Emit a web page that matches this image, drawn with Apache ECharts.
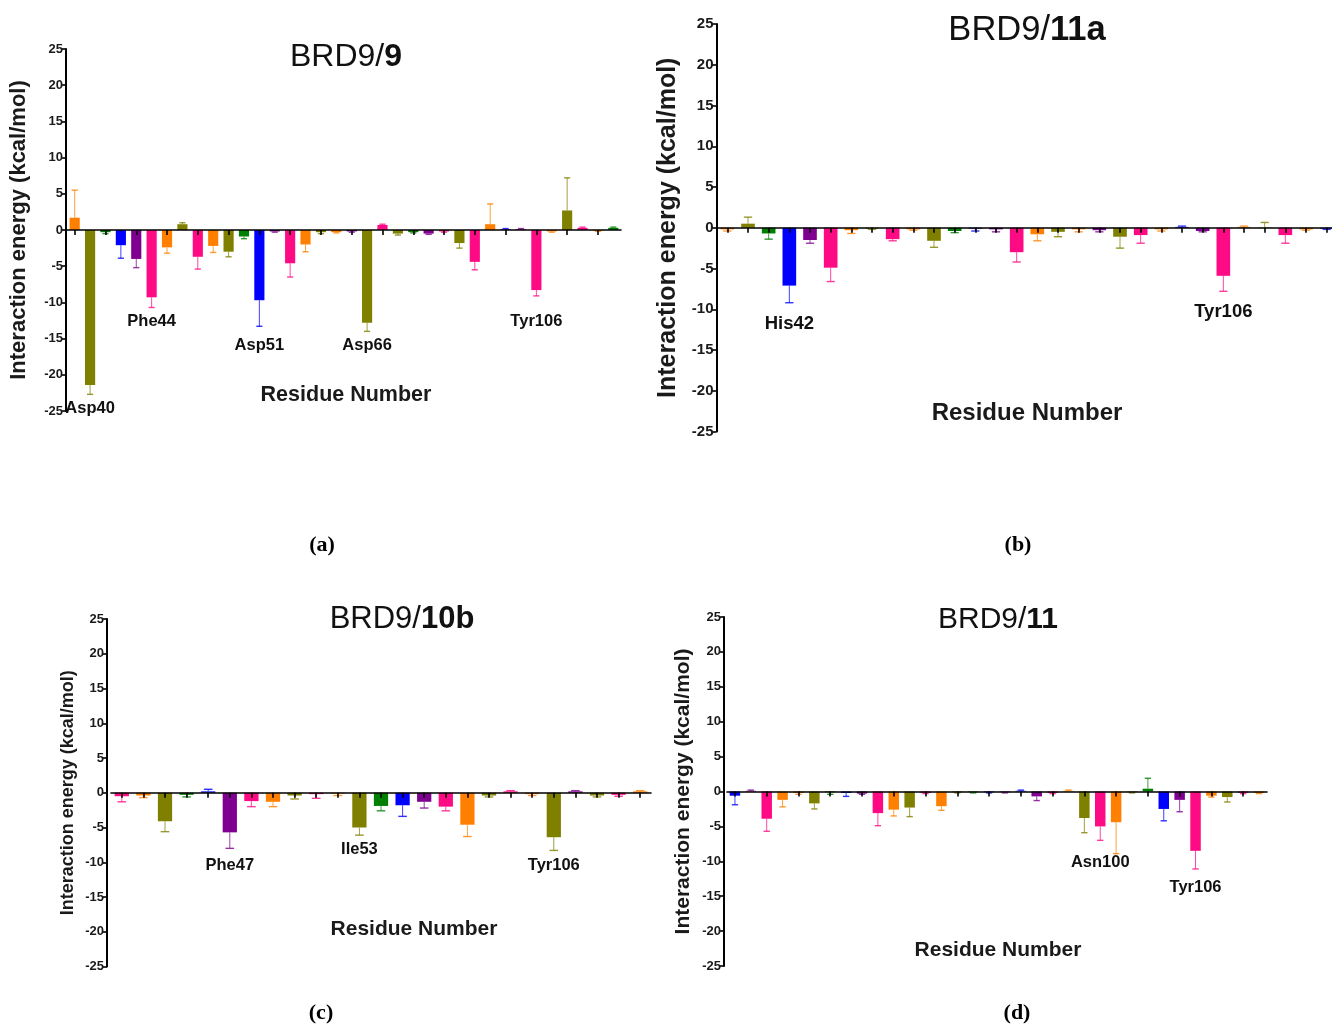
<!DOCTYPE html>
<html><head><meta charset="utf-8">
<script src="https://cdn.jsdelivr.net/npm/echarts@6/dist/echarts.min.js"></script>
<style>html,body{margin:0;padding:0;background:#fff}#c{width:1332px;height:1027px}</style>
</head><body><div id="c"></div>
<script>
// palette: 0 orange, 1 olive, 2 green, 3 blue, 4 purple, 5 pink
const palette = ['#FF8000', '#808000', '#008000', '#0000FF', '#7F0090', '#FF0A85'];
const yTicks = [-25, 25, 5]; // min, max, step

// Panel (a) BRD9/9
const valsA = [1.7, -21.4, -0.3, -2.1, -4.0, -9.3, -2.4, 0.8, -3.7, -2.2, -3.0, -0.9, -9.7, -0.2, -4.6, -2.0, -0.3, -0.3, -0.2, -12.8, 0.7, -0.5, -0.3, -0.5, -0.2, -1.8, -4.4, 0.8, 0.1, 0.1, -8.3, -0.2, 2.7, 0.3, -0.1, 0.3];
const errA  = [3.8, 1.3, 0.2, 1.8, 1.2, 1.4, 0.8, 0.2, 1.7, 0.9, 0.7, 0.3, 3.6, 0.1, 1.9, 1.0, 0.2, 0.1, 0.1, 1.2, 0.1, 0.2, 0.1, 0.1, 0.1, 0.7, 1.1, 2.8, 0.1, 0.1, 0.8, 0.1, 4.5, 0.1, 0.1, 0.1];
const colA  = [0, 1, 2, 3, 4, 5, 0, 1, 5, 0, 1, 2, 3, 4, 5, 0, 1, 0, 4, 1, 5, 1, 2, 4, 5, 1, 5, 0, 3, 4, 5, 0, 1, 5, 0, 2];
const annA  = [[1, -24.7, 'Asp40'], [5, -12.6, 'Phe44'], [12, -15.9, 'Asp51'], [19, -15.9, 'Asp66'], [30, -12.6, 'Tyr106']];

// Panel (b) BRD9/11a
const valsB = [-0.2, 0.5, -0.7, -7.1, -1.5, -4.9, -0.3, -0.1, -1.4, -0.2, -1.6, -0.4, -0.1, -0.2, -3.0, -0.8, -0.5, -0.2, -0.3, -1.1, -0.9, -0.2, 0.1, -0.4, -5.9, 0.1, 0.05, -0.9, -0.2, -0.1];
const errB  = [0.2, 0.8, 0.7, 2.1, 0.4, 1.7, 0.4, 0.1, 0.2, 0.1, 0.8, 0.2, 0.3, 0.3, 1.2, 0.8, 0.6, 0.3, 0.2, 1.4, 1.0, 0.2, 0.1, 0.1, 1.9, 0.1, 0.6, 1.0, 0.1, 0.1];
const colB  = [0, 1, 2, 3, 4, 5, 0, 1, 5, 0, 1, 2, 3, 4, 5, 0, 1, 0, 4, 1, 5, 0, 3, 4, 5, 0, 1, 5, 0, 3];
const annB  = [[3, -11.8, 'His42'], [24, -10.3, 'Tyr106']];

// Panel (c) BRD9/10b
const valsC = [-0.5, -0.4, -4.1, -0.3, 0.2, -5.7, -1.2, -1.3, -0.4, -0.2, -0.1, -5.0, -1.9, -1.8, -1.3, -2.0, -4.6, -0.4, 0.2, -0.2, -6.4, 0.2, -0.4, -0.3, 0.2];
const errC  = [0.8, 0.3, 1.5, 0.3, 0.3, 2.3, 0.8, 0.7, 0.5, 0.6, 0.3, 1.1, 0.7, 1.6, 0.9, 0.6, 1.7, 0.2, 0.1, 0.2, 1.9, 0.1, 0.2, 0.2, 0.1];
const colC  = [5, 0, 1, 2, 3, 4, 5, 0, 1, 5, 0, 1, 2, 3, 4, 5, 0, 1, 5, 0, 1, 4, 1, 5, 0];
const annC  = [[5, -10.4, 'Phe47'], [11, -8.2, 'Ile53'], [20, -10.4, 'Tyr106']];

// Panel (d) BRD9/11
const valsD = [-0.6, 0.1, -3.9, -1.2, -0.2, -1.7, -0.1, -0.2, -0.3, -3.1, -2.6, -2.3, -0.2, -2.1, -0.1, -0.1, -0.1, -0.1, 0.1, -0.7, -0.2, 0.1, -3.8, -5.0, -4.4, -0.1, 0.4, -2.5, -1.2, -8.5, -0.6, -0.8, -0.2, -0.2];
const errD  = [1.3, 0.1, 1.8, 1.0, 0.2, 0.8, 0.3, 0.5, 0.1, 1.8, 0.9, 1.3, 0.1, 0.6, 0.1, 0.1, 0.1, 0.1, 0.1, 0.6, 0.1, 0.1, 2.1, 2.0, 4.5, 0.1, 1.5, 1.7, 1.7, 2.6, 0.2, 0.7, 0.1, 0.1];
const colD  = [3, 4, 5, 0, 0, 1, 2, 3, 4, 5, 0, 1, 5, 0, 1, 2, 3, 4, 3, 4, 5, 0, 1, 5, 0, 1, 2, 3, 4, 5, 0, 1, 5, 0];
const annD  = [[23, -10.2, 'Asn100'], [29, -13.8, 'Tyr106']];

const titles = [['BRD9/', '9'], ['BRD9/', '11a'], ['BRD9/', '10b'], ['BRD9/', '11']];
const yName = 'Interaction energy (kcal/mol)';
const xName = 'Residue Number';
const captions = ['a', 'b', 'c', 'd'];

// ---- layout (style only) ----
const FONT = '"Liberation Sans", Arial, sans-serif';
const panels = [
  {vals: valsA, err: errA, col: colA, ann: annA, grid: {left: 67, top: 49, width: 554, height: 362}, yOff: 1,
   tickFs: 13, nameFs: 22, nameGap: 36, xFs: 21.5, xPos: [346, 395], annFs: 16.5, tFs: 32, tX: 346, tY: 41, cap: [322, 534]},
  {vals: valsB, err: errB, col: colB, ann: annB, grid: {left: 717, top: 24, width: 620, height: 407.5}, yOff: 0.5,
   tickFs: 15, nameFs: 25, nameGap: 36, xFs: 24, xPos: [1027, 413], annFs: 18.5, tFs: 34.5, tX: 1027, tY: 13, cap: [1018, 534]},
  {vals: valsC, err: errC, col: colC, ann: annC, grid: {left: 111, top: 619, width: 540, height: 347.5}, yOff: 4,
   tickFs: 13, nameFs: 18, nameGap: 30, xFs: 21, xPos: [414, 929], annFs: 16.5, tFs: 31, tX: 402, tY: 604, cap: [321, 1002]},
  {vals: valsD, err: errD, col: colD, ann: annD, grid: {left: 727, top: 617, width: 540, height: 349}, yOff: 3,
   tickFs: 13, nameFs: 21, nameGap: 30, xFs: 21, xPos: [998, 950], annFs: 16.5, tFs: 30, tX: 998, tY: 605, cap: [1017, 1002]}
];

const option = {animation: false, backgroundColor: '#fff', grid: [], xAxis: [], yAxis: [], series: [], title: [], graphic: []};

panels.forEach((p, k) => {
  const cats = p.vals.map((_, i) => String(i));
  option.grid.push(Object.assign({containLabel: false, outerBoundsMode: 'none'}, p.grid));
  option.xAxis.push({
    type: 'category', gridIndex: k, data: cats, z: 5,
    axisLine: {onZero: true, lineStyle: {color: '#000', width: 1.6}},
    axisTick: {show: true, alignWithLabel: true, length: 5, lineStyle: {color: '#000', width: 1.6}},
    axisLabel: {show: false}, splitLine: {show: false}
  });
  option.yAxis.push({
    type: 'value', gridIndex: k, min: yTicks[0], max: yTicks[1], interval: yTicks[2], offset: p.yOff,
    name: yName, nameLocation: 'middle', nameGap: p.nameGap,
    nameTextStyle: {fontFamily: FONT, fontWeight: 'bold', fontSize: p.nameFs, color: '#1a1a1a'},
    axisLine: {show: true, lineStyle: {color: '#000', width: 2}},
    axisTick: {show: true, length: 5, lineStyle: {color: '#000', width: 1.6}},
    axisLabel: {fontFamily: FONT, fontWeight: 'bold', fontSize: p.tickFs, color: '#1a1a1a', margin: 3},
    splitLine: {show: false}
  });
  option.series.push({
    type: 'bar', xAxisIndex: k, yAxisIndex: k, barWidth: '66%', z: 2,
    data: p.vals,
    itemStyle: {color: params => palette[p.col[params.dataIndex]]}
  });
  option.series.push({
    type: 'custom', xAxisIndex: k, yAxisIndex: k, z: 3,
    data: p.vals.map((v, i) => [i, v, p.err[i], p.col[i]]),
    renderItem: (params, api) => {
      const i = api.value(0), v = api.value(1), e = api.value(2), c = api.value(3);
      const tip = v + (v < 0 ? -e : e);
      const p0 = api.coord([i, v]);
      const p1 = api.coord([i, tip]);
      const hw = api.size([1, 0])[0] * 0.2;
      const color = palette[c];
      return {type: 'group', children: [
        {type: 'line', shape: {x1: p0[0], y1: p0[1], x2: p1[0], y2: p1[1]}, style: {stroke: color, lineWidth: 1, opacity: 0.75}},
        {type: 'line', shape: {x1: p1[0] - hw, y1: p1[1], x2: p1[0] + hw, y2: p1[1]}, style: {stroke: color, lineWidth: 1.4, opacity: 0.8}}
      ]};
    }
  });
  option.series.push({
    type: 'scatter', xAxisIndex: k, yAxisIndex: k, z: 6, symbolSize: 1,
    itemStyle: {color: 'rgba(0,0,0,0)', opacity: 1},
    data: p.ann.map(a => ({value: [a[0], a[1]], name: a[2]})),
    label: {show: true, position: 'inside', formatter: '{b}', fontFamily: FONT, fontWeight: 'bold', fontSize: p.annFs, color: '#111', opacity: 1}
  });
  option.title.push({
    text: '{n|' + titles[k][0] + '}{b|' + titles[k][1] + '}',
    left: p.tX, top: p.tY, textAlign: 'center', padding: 0,
    textStyle: {rich: {
      n: {fontFamily: FONT, fontSize: p.tFs, fontWeight: 'normal', color: '#111', lineHeight: p.tFs},
      b: {fontFamily: FONT, fontSize: p.tFs, fontWeight: 'bold', color: '#111', lineHeight: p.tFs}
    }}
  });
  option.title.push({
    text: '{n|(}{b|' + captions[k] + '}{n|)}',
    left: p.cap[0], top: p.cap[1], textAlign: 'center', padding: 0,
    textStyle: {rich: {
      n: {fontFamily: '"Liberation Serif", "Times New Roman", serif', fontSize: 22, color: '#000', lineHeight: 22},
      b: {fontFamily: '"Liberation Serif", "Times New Roman", serif', fontSize: 22, fontWeight: 'bold', color: '#000', lineHeight: 22}
    }}
  });
  option.graphic.push({
    type: 'text', x: p.xPos[0], y: p.xPos[1], z: 10,
    style: {text: xName, fontFamily: FONT, fontWeight: 'bold', fontSize: p.xFs, fill: '#1a1a1a', textAlign: 'center', textVerticalAlign: 'middle'}
  });
});

const chart = echarts.init(document.getElementById('c'), null, {renderer: 'canvas'});
chart.setOption(option);
</script>
</body></html>
